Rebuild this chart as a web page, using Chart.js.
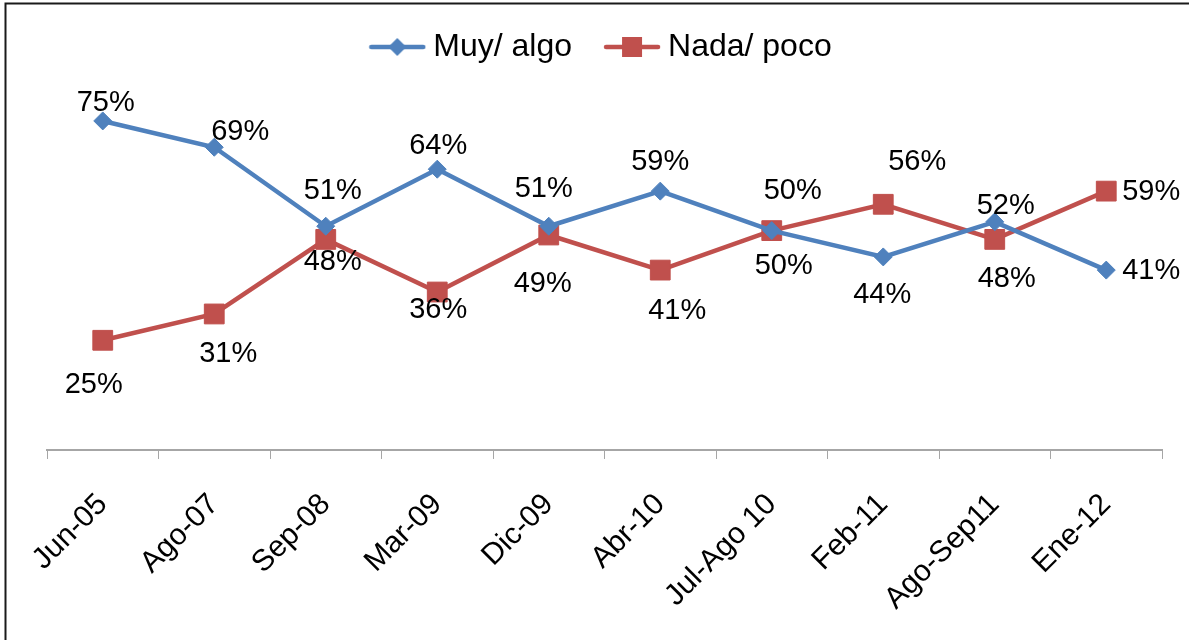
<!DOCTYPE html>
<html>
<head>
<meta charset="utf-8">
<script src="https://cdn.jsdelivr.net/npm/chart.js@4.4.1/dist/chart.umd.min.js"></script>
<style>
  html, body { margin: 0; padding: 0; background: #fff; }
  .chart-box { position: relative; width: 1189px; height: 640px; }
</style>
</head>
<body>
<div class="chart-box"><canvas id="trend-chart"></canvas></div>
<script>
const categories = ['Jun-05', 'Ago-07', 'Sep-08', 'Mar-09', 'Dic-09', 'Abr-10', 'Jul-Ago 10', 'Feb-11', 'Ago-Sep11', 'Ene-12'];
const muyAlgo = [75, 69, 51, 64, 51, 59, 50, 44, 52, 41];
const nadaPoco = [25, 31, 48, 36, 49, 41, 50, 56, 48, 59];

// label nudges (dx, dy) so the percentages sit where they do in the original
const muyAlgoLabelShift = [[3, -18], [26, -15], [7, -35], [1, -23], [-5, -37], [0, -29], [21, -40], [-1, 38], [11, -16], [45, 1]];
const nadaPocoLabelShift = [[-9, 45], [14, 40], [7, 23], [1, 18], [-6, 49], [17, 41], [12, 35], [34, -42], [12, 40], [45, 1]];

const BLUE = '#4F81BD';
const RED = '#C0504D';
const FONT = 'Liberation Sans, Arial, sans-serif';

function legendSymbol(color, shape) {
	const c = document.createElement('canvas');
	c.width = 58;
	c.height = 24;
	const ctx = c.getContext('2d');
	ctx.strokeStyle = color;
	ctx.lineWidth = 4.5;
	ctx.lineCap = 'round';
	ctx.beginPath();
	ctx.moveTo(3, 12);
	ctx.lineTo(55, 12);
	ctx.stroke();
	ctx.fillStyle = color;
	if (shape === 'diamond') {
		ctx.beginPath();
		ctx.moveTo(29, 3);
		ctx.lineTo(38, 12);
		ctx.lineTo(29, 21);
		ctx.lineTo(20, 12);
		ctx.closePath();
		ctx.fill();
	} else {
		ctx.fillRect(19, 2, 20, 20);
	}
	return c;
}

const legendIcons = [legendSymbol(BLUE, 'diamond'), legendSymbol(RED, 'square')];

const valueLabels = {
	id: 'valueLabels',
	afterDatasetsDraw(chart) {
		const ctx = chart.ctx;
		const shifts = [muyAlgoLabelShift, nadaPocoLabelShift];
		ctx.save();
		ctx.font = '29px ' + FONT;
		ctx.fillStyle = '#000';
		ctx.textAlign = 'center';
		ctx.textBaseline = 'middle';
		chart.data.datasets.forEach((ds, di) => {
			const meta = chart.getDatasetMeta(di);
			meta.data.forEach((pt, i) => {
				const s = shifts[di][i];
				ctx.fillText(ds.data[i] + '%', pt.x + s[0], pt.y + s[1]);
			});
		});
		ctx.restore();
	}
};

const frameLines = {
	id: 'frameLines',
	afterDraw(chart) {
		const ctx = chart.ctx;
		ctx.save();
		ctx.strokeStyle = '#1a1a1a';
		ctx.lineWidth = 2;
		ctx.beginPath();
		ctx.moveTo(5.5, chart.height);
		ctx.lineTo(5.5, 3.5);
		ctx.lineTo(chart.width, 3.5);
		ctx.stroke();
		ctx.restore();
	}
};

// extra room between the legend and the plot
const legendGap = {
	id: 'legendGap',
	beforeInit(chart) {
		const fit = chart.legend.fit;
		chart.legend.fit = function () {
			fit.bind(chart.legend)();
			this.height += 26;
		};
	}
};

const ctx = document.getElementById('trend-chart');
new Chart(ctx, {
	type: 'line',
	data: {
		labels: categories,
		datasets: [
			{
				label: 'Muy/ algo',
				data: muyAlgo,
				borderColor: BLUE,
				backgroundColor: BLUE,
				borderWidth: 4.5,
				pointStyle: 'rectRot',
				pointRadius: 9,
				pointBorderWidth: 1,
				tension: 0,
				clip: false,
			},
			{
				label: 'Nada/ poco',
				data: nadaPoco,
				borderColor: RED,
				backgroundColor: RED,
				borderWidth: 4.5,
				pointStyle: 'rect',
				pointRadius: 14,
				pointBorderWidth: 1,
				tension: 0,
				clip: false,
			},
		],
	},
	options: {
		responsive: true,
		maintainAspectRatio: false,
		animation: false,
		layout: {
			padding: { left: 47, right: 27, top: -9, bottom: -5 },
		},
		plugins: {
			legend: {
				display: true,
				position: 'top',
				labels: {
					usePointStyle: true,
					pointStyleWidth: 40,
					padding: 40,
					color: '#000',
					font: { family: FONT, size: 32 },
					generateLabels(chart) {
						const items = Chart.defaults.plugins.legend.labels.generateLabels(chart);
						items.forEach((it, i) => { it.pointStyle = legendIcons[i]; });
						return items;
					},
				},
			},
			tooltip: { enabled: false },
		},
		scales: {
			x: {
				offset: true,
				grid: {
					offset: true,
					drawOnChartArea: false,
					drawTicks: true,
					tickLength: 9,
					tickColor: '#A6A6A6',
				},
				border: { display: true, color: '#A6A6A6', width: 2 },
				ticks: {
					minRotation: 45,
					maxRotation: 45,
					padding: 28,
					color: '#000',
					font: { family: FONT, size: 30 },
				},
			},
			y: {
				display: false,
				min: 0,
				max: 80,
			},
		},
	},
	plugins: [valueLabels, frameLines, legendGap],
});
</script>
</body>
</html>
